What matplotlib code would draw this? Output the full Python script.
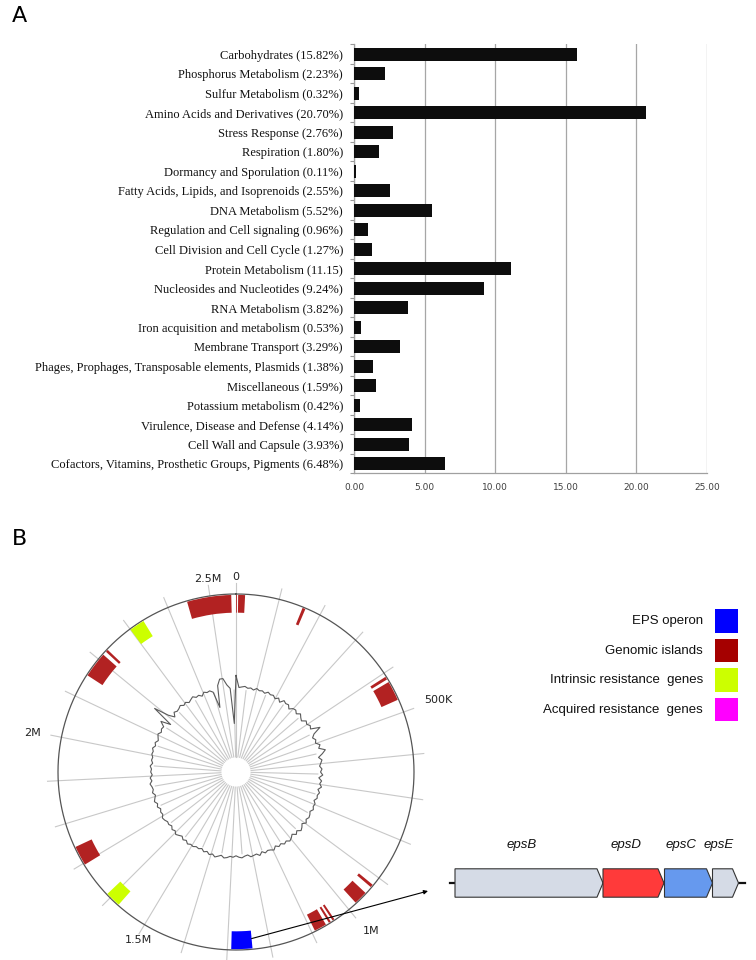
import numpy as np
import matplotlib
matplotlib.use('Agg')
import matplotlib.pyplot as plt
from matplotlib.patches import FancyArrow, ConnectionPatch

# ---------------- Panel A data ----------------
categories = [
    "Carbohydrates (15.82%)",
    "Phosphorus Metabolism (2.23%)",
    "Sulfur Metabolism (0.32%)",
    "Amino Acids and Derivatives (20.70%)",
    "Stress Response (2.76%)",
    "Respiration (1.80%)",
    "Dormancy and Sporulation (0.11%)",
    "Fatty Acids, Lipids, and Isoprenoids (2.55%)",
    "DNA Metabolism (5.52%)",
    "Regulation and Cell signaling (0.96%)",
    "Cell Division and Cell Cycle (1.27%)",
    "Protein Metabolism (11.15)",
    "Nucleosides and Nucleotides (9.24%)",
    "RNA Metabolism (3.82%)",
    "Iron acquisition and metabolism (0.53%)",
    "Membrane Transport (3.29%)",
    "Phages, Prophages, Transposable elements, Plasmids (1.38%)",
    "Miscellaneous (1.59%)",
    "Potassium metabolism (0.42%)",
    "Virulence, Disease and Defense (4.14%)",
    "Cell Wall and Capsule (3.93%)",
    "Cofactors, Vitamins, Prosthetic Groups, Pigments (6.48%)",
]
values = [15.82, 2.23, 0.32, 20.70, 2.76, 1.80, 0.11, 2.55, 5.52, 0.96, 1.27,
          11.15, 9.24, 3.82, 0.53, 3.29, 1.38, 1.59, 0.42, 4.14, 3.93, 6.48]
x_ticks = [0, 5, 10, 15, 20, 25]
x_tick_labels = ["0.00", "5.00", "10.00", "15.00", "20.00", "25.00"]

# ---------------- Panel B data ----------------
genome_length = 2560000
pos_ticks = [0, 500000, 1000000, 1500000, 2000000, 2500000]
pos_tick_labels = ["0", "500K", "1M", "1.5M", "2M", "2.5M"]
grid_major_step = 100000
grid_minor_step = 50000

# features in kb
gi_start = [2446, 0, 5, 157, 409, 423, 921, 946, 1040, 1050, 1063, 1696, 2155, 2224]
gi_end = [2549, 2, 21, 164, 416, 469, 928, 978, 1045, 1055, 1092, 1742, 2215, 2230]
eps_start = [1242]
eps_end = [1291]
intrinsic_start = [1575, 2300]
intrinsic_end = [1611, 2336]
acquired_start = []
acquired_end = []

# GC content deviation per window (180 windows)
gc_dev = [16, 0, 1, 2, 0, 1, -1, 2, 0, 1, -1, 2, 0, 1, -2, 1, -3, 2, 0, 1,
          -3, 1, 2, -1, 3, 0, -2, 3, 1, 4, 2, 14, 3, -1, 2, 0, 5, 2, 10, 5,
          -1, 3, 1, -1, 2, 0, 3, -2, 2, 0, 3, -1, 2, 0, 1, -2, 1, 0, 2, -1,
          1, 2, 0, 3, -1, 2, 4, 0, 3, -1, 2, 4, 1, 3, 0, 2, -1, 3, 1, 0,
          2, -1, 3, 0, 1, 2, -1, 0, 2, 1, -1, 1, 0, 2, 3, 0, 2, 4, 1, 3,
          0, 2, -1, 1, 0, 2, 1, 3, 0, 2, -1, 1, 3, 0, 2, -1, 1, 0, 2, 3,
          0, 1, -1, 2, 0, 3, 1, -1, 2, 0, 1, 3, 0, 2, -1, 1, 0, 2, -1, 1,
          0, 2, 1, 3, 0, 2, -1, 1, 3, 0, 2, 1, 8, -5, 25, 5, -3, 2, 0, 1,
          3, 0, 2, -1, 1, 3, 0, 1, -2, 2, 0, 1, -2, -24, 5, 13, 13, 4, -1, -48]

legend_labels = ["EPS operon", "Genomic islands", "Intrinsic resistance  genes",
                 "Acquired resistance  genes"]
legend_colors = ["#0000ff", "#a50000", "#ccff00", "#ff00ff"]
feature_colors = {"gi": "#b22222", "eps": "#0000ff", "intr": "#ccff00", "acq": "#ff00ff"}

gene_names = ["epsB", "epsD", "epsC", "epsE"]
gene_start = [0, 1480, 2095, 2575]
gene_end = [1480, 2090, 2575, 2835]
gene_colors = ["#d5dbe6", "#ff3a3a", "#6699ee", "#d5dbe6"]
backbone = [-50, 2900]

W, H = 756, 960
fig = plt.figure(figsize=(W / 100, H / 100), dpi=100)
fig.patch.set_facecolor("white")

serif = ["Liberation Serif", "DejaVu Serif"]
sans = ["DejaVu Sans"]
arial = ["Liberation Sans", "DejaVu Sans"]

# ---------------- Panel A ----------------
axA = fig.add_axes([354 / W, 1 - 473.5 / H, 353 / W, 429 / H])
y = np.arange(len(categories))
axA.barh(y, values, height=0.65, color="#0d0d0d", zorder=3)
axA.set_ylim(len(categories) - 0.5, -0.5)
axA.set_xlim(0, 25)
axA.set_xticks(x_ticks)
axA.set_xticklabels(x_tick_labels, fontsize=6.5, family=sans, color="#404040")
axA.set_yticks(y)
axA.set_yticklabels(categories, fontsize=9, family=serif, color="#111111")
axA.set_yticks(np.arange(-0.5, len(categories), 1), minor=True)
axA.tick_params(axis="y", which="major", length=0, pad=8)
axA.tick_params(axis="y", which="minor", length=3, color="#999999", width=0.8)
axA.tick_params(axis="x", length=0, pad=7)
axA.grid(axis="x", color="#a6a6a6", lw=0.9, zorder=0)
for s in ["top", "right"]:
    axA.spines[s].set_visible(False)
for s in ["left", "bottom"]:
    axA.spines[s].set_color("#a0a0a0")
    axA.spines[s].set_linewidth(0.9)

fig.text(12 / W, 1 - 6 / H, "A", fontsize=16, family=sans, va="top", ha="left")
fig.text(12 / W, 1 - 529 / H, "B", fontsize=16, family=sans, va="top", ha="left")

# ---------------- Panel B circle ----------------
R = 178
cx, cy = 236, 772
rmax = 1.08
axP = fig.add_axes([(cx - R * rmax) / W, 1 - (cy + R * rmax) / H, 2 * R * rmax / W, 2 * R * rmax / H],
                   projection="polar")
axP.set_theta_zero_location("N")
axP.set_theta_direction(-1)
axP.set_ylim(0, rmax)
axP.set_xticks([])
axP.set_yticks([])
axP.grid(False)
axP.spines["polar"].set_visible(False)
axP.patch.set_alpha(0)


def theta(pos):
    return np.asarray(pos, dtype=float) / genome_length * 2 * np.pi


for p in np.arange(0, genome_length, grid_minor_step):
    t = theta(p)
    if p % grid_major_step == 0:
        axP.plot([t, t], [0.085, 1.06], color="#c8c8c8", lw=0.8, zorder=1)
    else:
        axP.plot([t, t], [0.085, 0.46], color="#c8c8c8", lw=0.8, zorder=1)

tt = np.linspace(0, 2 * np.pi, 721)
axP.plot(tt, np.ones_like(tt), color="#555555", lw=0.9, zorder=2)

gc_pos = np.arange(len(gc_dev) + 1) * genome_length / len(gc_dev)
gc_r = 0.475 + 0.75 * np.array(gc_dev + gc_dev[:1], dtype=float) / R
axP.plot(theta(gc_pos), gc_r, color="#5a5a5a", lw=0.8, zorder=3)


def draw_features(starts, ends, color):
    if len(starts) == 0:
        return
    st = theta(np.array(starts) * 1000)
    wd = theta((np.array(ends) - np.array(starts)) * 1000)
    axP.bar(st, 0.1, width=wd, bottom=0.895, align="edge", color=color,
            edgecolor="none", zorder=4)


draw_features(gi_start, gi_end, feature_colors["gi"])
draw_features(eps_start, eps_end, feature_colors["eps"])
draw_features(intrinsic_start, intrinsic_end, feature_colors["intr"])
draw_features(acquired_start, acquired_end, feature_colors["acq"])

for p, lab in zip(pos_ticks, pos_tick_labels):
    t = float(theta(p))
    s, c = np.sin(t), np.cos(t)
    if s > 0.6:
        ha = "left"
    elif s < -0.6:
        ha = "right"
    else:
        ha = "center"
    if c > 0.3:
        va = "bottom"
    elif c < -0.3:
        va = "top"
    else:
        va = "center"
    r = 1.12 if ha != "center" else 1.07
    axP.text(t, r, lab, ha=ha, va=va, fontsize=8, family=sans, color="#222222",
             clip_on=False)

# ---------------- Legend ----------------
axL = fig.add_axes([600 / W, 1 - 724.25 / H, 150 / W, 118 / H])
axL.set_xlim(0, 150)
axL.set_ylim(len(legend_labels) - 0.5, -0.5)
axL.axis("off")
for i, (lab, col) in enumerate(zip(legend_labels, legend_colors)):
    axL.scatter([126.5], [i], marker="s", s=298, color=col, edgecolors="none")
    axL.text(103, i, lab, ha="right", va="center", fontsize=9.5, family=arial,
             color="#111111")

# ---------------- Gene diagram ----------------
axG = fig.add_axes([420 / W, 1 - 943 / H, 330 / W, 120 / H])
axG.set_xlim(-350, 2950)
axG.set_ylim(-1.5, 1.5)
axG.axis("off")
axG.plot(backbone, [0, 0], color="#111111", lw=1.6, zorder=1)
head = 60
for name, s, e, col in zip(gene_names, gene_start, gene_end, gene_colors):
    axG.add_patch(FancyArrow(s, 0, e - s, 0, width=0.71, head_width=0.71,
                             head_length=head, length_includes_head=True,
                             fc=col, ec="#333333", lw=0.8, zorder=2))
    axG.text((s + e - head) / 2 - 40, 0.95, name, style="italic", ha="center",
             va="center", fontsize=9.5, family=arial, color="#111111")

con = ConnectionPatch(xyA=(float(theta(eps_start[0] * 1000)), 0.94), coordsA=axP.transData,
                      xyB=(backbone[0] - 220, -0.2), coordsB=axG.transData,
                      arrowstyle="-|>", mutation_scale=6, lw=0.8, color="black", zorder=10)
fig.add_artist(con)

fig.savefig("out.png", dpi=100, facecolor="white")
